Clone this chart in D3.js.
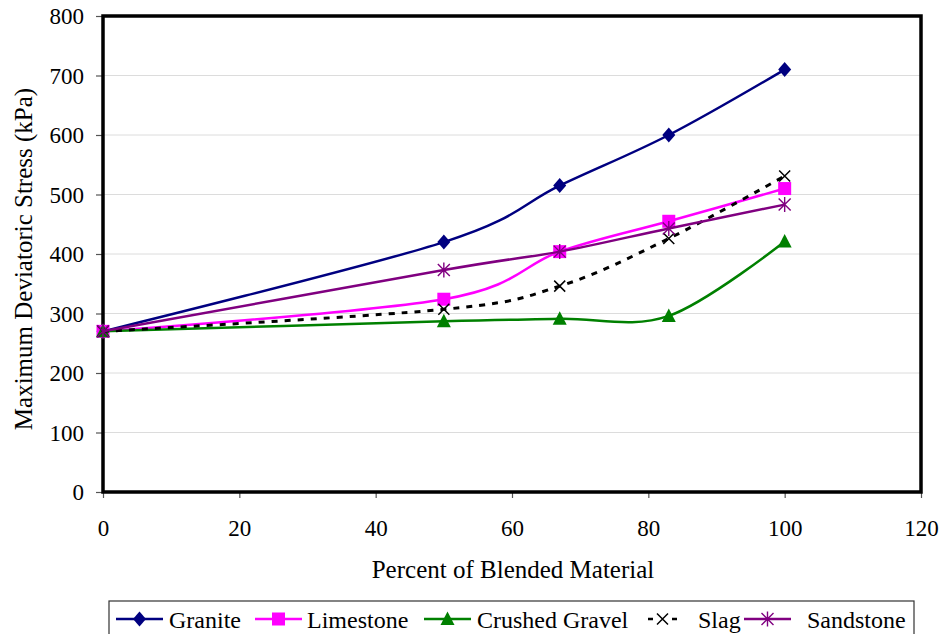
<!DOCTYPE html>
<html>
<head>
<meta charset="utf-8">
<script src="https://cdn.jsdelivr.net/npm/d3@7/dist/d3.min.js"></script>
<style>
  html, body { margin: 0; padding: 0; background: #fff; }
  svg { display: block; }
  svg text { font-family: "Liberation Serif", "Tinos", "Times New Roman", "DejaVu Serif", serif; fill: #000; }
</style>
</head>
<body>
<svg id="chart" width="942" height="634"></svg>
<script>
// Blend percentages on the x axis
const percents = [0, 50, 67, 83, 100];

// Maximum deviatoric stress (kPa) for each blended material
const granite       = [270, 420, 515, 600, 710];
const limestone     = [270, 324, 404, 455, 510];
const crushedGravel = [270, 287, 291, 296, 421];
const slag          = [270, 307, 346, 426, 531];
const sandstone     = [270, 373, 404, 443, 483];

const seriesNames  = ["Granite", "Limestone", "Crushed Gravel", "Slag", "Sandstone"];
const seriesValues = [granite, limestone, crushedGravel, slag, sandstone];

const xTicks = [0, 20, 40, 60, 80, 100, 120];
const yTicks = [0, 100, 200, 300, 400, 500, 600, 700, 800];

const styles = {
  "Granite":        { color: "#000080", marker: "diamond",  dash: null },
  "Limestone":      { color: "#ff00ff", marker: "square",   dash: null },
  "Crushed Gravel": { color: "#008000", marker: "triangle", dash: null },
  "Slag":           { color: "#000000", marker: "x",        dash: "6,7" },
  "Sandstone":      { color: "#800080", marker: "star",     dash: null }
};

const SERIF = "'Liberation Serif', 'Tinos', 'Times New Roman', 'DejaVu Serif', serif";

const svg = d3.select("#chart");
const plot = { left: 103, top: 16, right: 921, bottom: 492 };

const x = d3.scaleLinear().domain([0, 120]).range([plot.left, plot.right]);
const y = d3.scaleLinear().domain([0, 800]).range([plot.bottom, plot.top]);

// Horizontal gridlines
svg.append("g")
  .selectAll("line")
  .data(yTicks.filter(d => d > 0 && d < 800))
  .join("line")
  .attr("x1", plot.left).attr("x2", plot.right)
  .attr("y1", d => y(d)).attr("y2", d => y(d))
  .attr("stroke", "#dcdcdc").attr("stroke-width", 1);

// Axes
const xAxis = svg.append("g")
  .attr("transform", `translate(0,${plot.bottom})`)
  .call(d3.axisBottom(x).tickValues(xTicks).tickSize(6).tickPadding(22).tickFormat(d3.format("d")));
const yAxis = svg.append("g")
  .attr("transform", `translate(${plot.left},0)`)
  .call(d3.axisLeft(y).tickValues(yTicks).tickSize(7).tickPadding(12).tickFormat(d3.format("d")));

[xAxis, yAxis].forEach(g => {
  g.attr("font-family", SERIF).attr("font-size", 23);
  g.select(".domain").remove();
  g.selectAll(".tick line").attr("stroke", "#555").attr("stroke-width", 1.2);
  g.selectAll(".tick text")
    .attr("fill", "#000")
    .attr("font-family", SERIF)
    .attr("font-size", 23);
});
yAxis.selectAll(".tick text").attr("dy", "0.34em");

// Plot frame
svg.append("rect")
  .attr("x", plot.left).attr("y", plot.top)
  .attr("width", plot.right - plot.left).attr("height", plot.bottom - plot.top)
  .attr("fill", "none").attr("stroke", "#000").attr("stroke-width", 3.5);

// Axis titles
svg.append("text")
  .attr("x", (plot.left + plot.right) / 2 + 1).attr("y", 578)
  .attr("text-anchor", "middle")
  .attr("font-family", SERIF).attr("font-size", 25)
  .text("Percent of Blended Material");

svg.append("text")
  .attr("transform", "translate(32,259) rotate(-90)")
  .attr("text-anchor", "middle")
  .attr("font-family", SERIF).attr("font-size", 25)
  .text("Maximum Deviatoric Stress (kPa)");

// Marker drawing
function drawMarker(g, type, color, cx, cy) {
  if (type === "diamond") {
    g.append("path")
      .attr("d", `M${cx},${cy - 7.5}L${cx + 6.5},${cy}L${cx},${cy + 7.5}L${cx - 6.5},${cy}Z`)
      .attr("fill", color);
  } else if (type === "square") {
    g.append("rect").attr("x", cx - 6.5).attr("y", cy - 6.5).attr("width", 13).attr("height", 13).attr("fill", color);
  } else if (type === "triangle") {
    g.append("path").attr("d", `M${cx},${cy - 7.5}L${cx + 7},${cy + 6}L${cx - 7},${cy + 6}Z`).attr("fill", color);
  } else if (type === "x") {
    const r = 5.5;
    g.append("path").attr("d", `M${cx - r},${cy - r}L${cx + r},${cy + r}M${cx + r},${cy - r}L${cx - r},${cy + r}`)
      .attr("stroke", color).attr("stroke-width", 1.5).attr("fill", "none");
  } else if (type === "star") {
    const r = 6;
    g.append("path").attr("d",
      `M${cx - r},${cy - r}L${cx + r},${cy + r}M${cx + r},${cy - r}L${cx - r},${cy + r}M${cx},${cy - r - 1.5}L${cx},${cy + r + 1.5}`)
      .attr("stroke", color).attr("stroke-width", 1.4).attr("fill", "none");
  }
}

// Smoothed series lines, each drawn with its markers
const line = d3.line()
  .x(d => x(d[0]))
  .y(d => y(d[1]))
  .curve(d3.curveCardinal.tension(0));

seriesNames.forEach((name, i) => {
  const st = styles[name];
  const pts = percents.map((p, j) => [p, seriesValues[i][j]]);
  svg.append("path")
    .datum(pts)
    .attr("d", line)
    .attr("fill", "none")
    .attr("stroke", st.color)
    .attr("stroke-width", st.dash ? 3 : 2.5)
    .attr("stroke-dasharray", st.dash);
  const g = svg.append("g");
  pts.forEach(p => drawMarker(g, st.marker, st.color, x(p[0]), y(p[1])));
});

// Legend
const legend = svg.append("g");
legend.append("rect")
  .attr("x", 109).attr("y", 601).attr("width", 805).attr("height", 40)
  .attr("fill", "#fff").attr("stroke", "#333").attr("stroke-width", 1.2);

const legendLineX = [116, 255, 424, 648, 744];
const legendTextX = [169, 307, 477, 698, 807];
const legendY = 619;
seriesNames.forEach((name, i) => {
  const st = styles[name];
  const lx = legendLineX[i];
  const len = st.dash ? 29 : 47;
  legend.append("line")
    .attr("x1", lx).attr("x2", lx + len).attr("y1", legendY).attr("y2", legendY)
    .attr("stroke", st.color).attr("stroke-width", 2.6)
    .attr("stroke-dasharray", st.dash ? "5,19" : null);
  drawMarker(legend, st.marker, st.color, lx + len / 2, legendY);
  legend.append("text")
    .attr("x", legendTextX[i]).attr("y", 628)
    .attr("font-family", SERIF).attr("font-size", 24)
    .text(name);
});
</script>
</body>
</html>
